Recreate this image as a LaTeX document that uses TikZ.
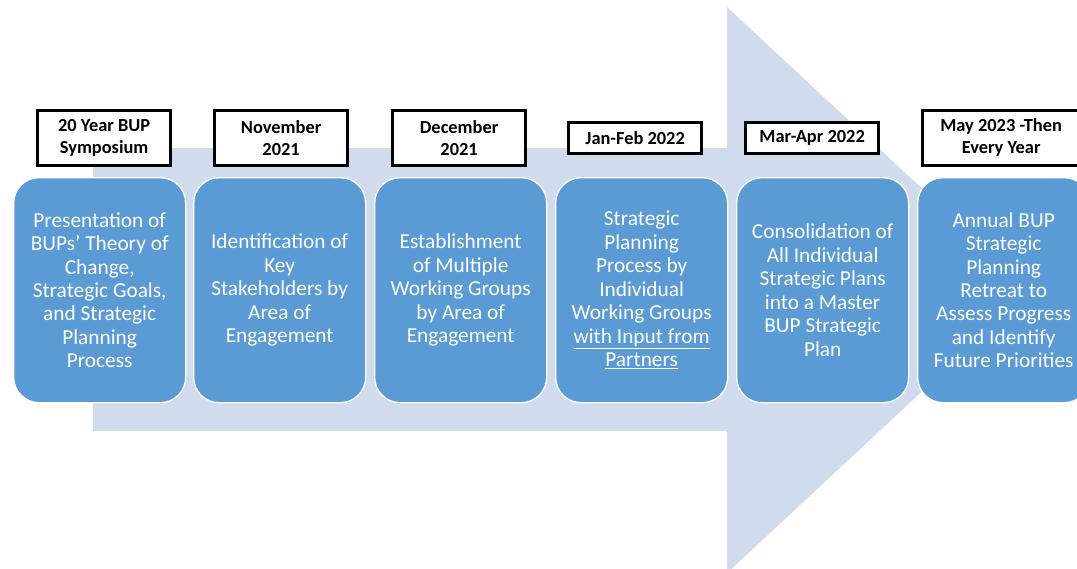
\documentclass[tikz,border=0pt]{standalone}
\usepackage{fontspec}
\setmainfont{Carlito}
\definecolor{arrowfill}{RGB}{208,220,238}
\definecolor{boxblue}{RGB}{91,155,213}
\begin{document}
\begin{tikzpicture}[x=0.75pt,y=-0.75pt,
  stepbox/.style={draw=white,line width=1pt,fill=boxblue,rounded corners=19pt,
    minimum width=129pt,minimum height=168.75pt,anchor=north west,inner sep=0pt,
    text=white,font=\fontsize{16}{17.6}\selectfont,align=center},
  datebox/.style={draw=black,line width=2.2pt,fill=white,anchor=north west,inner sep=0pt,
    minimum width=100pt,font=\bfseries\fontsize{13.8}{16.5}\selectfont,align=center}]
\clip (0,0) rectangle (1077,568);
\useasboundingbox (0,0) rectangle (1077,568);
% big arrow
\fill[arrowfill] (93,148) -- (727,148) -- (727,7) -- (1031,290) -- (727,573) -- (727,431) -- (93,431) -- cycle;
% date labels
\node[datebox,minimum height=41pt] (d1) at (36,109) {20 Year BUP\\Symposium};
\node[datebox,minimum height=41pt] (d2) at (213,109) {November\\2021};
\node[datebox,minimum height=41pt] (d3) at (391,109) {December\\2021};
\node[datebox,minimum height=23.5pt] (d4) at (567,121) {Jan-Feb 2022};
\node[datebox,minimum height=23.5pt] (d5) at (744,121) {Mar-Apr 2022};
\node[datebox,minimum height=41pt,minimum width=118pt] (d6) at (921,109) {May 2023 -Then\\Every Year};
% step boxes
\node[stepbox] (s1) at (13,177) {Presentation of\\BUPs’ Theory of\\Change,\\Strategic Goals,\\and Strategic\\Planning\\Process};
\node[stepbox] (s2) at (193,177) {Identification of\\Key\\Stakeholders by\\Area of\\Engagement};
\node[stepbox] (s3) at (374,177) {Establishment\\of Multiple\\Working Groups\\by Area of\\Engagement};
\node[stepbox] (s4) at (555,177) {Strategic\\Planning\\Process by\\Individual\\Working Groups\\\underline{with Input from}\\\underline{Partners}};
\node[stepbox] (s5) at (736,177) {Consolidation of\\All Individual\\Strategic Plans\\into a Master\\BUP Strategic\\Plan};
\node[stepbox] (s6) at (917,177) {Annual BUP\\Strategic\\Planning\\Retreat to\\Assess Progress\\and Identify\\Future Priorities};
\end{tikzpicture}
\end{document}
